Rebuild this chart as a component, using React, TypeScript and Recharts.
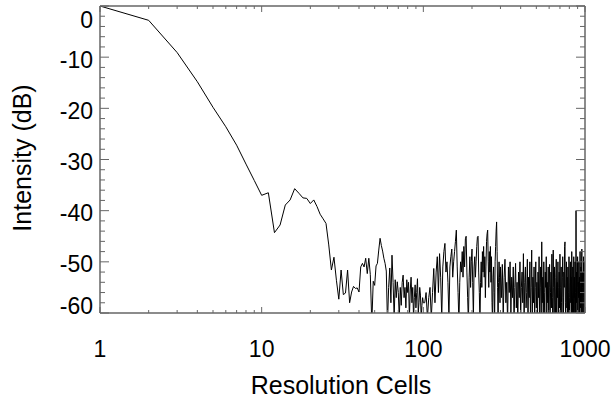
import { LineChart, Line, XAxis, YAxis } from 'recharts'

const AXIS = '#666666'
const INK = '#000000'
const FONT = '"Liberation Sans", Arial, Helvetica, sans-serif'

// cells 1..100, one value per cell
const startA = 1
const stepA = 1
const dbA = [
  0, -2.8, -9.1, -14.8, -19.8, -23.6, -27.2, -30.9, -34.1, -37.0,
  -36.5, -44.3, -42.8, -38.9, -37.9, -35.7, -36.6, -37.5, -37.6, -38.6,
  -37.9, -39.2, -40.7, -41.6, -42.5, -46.7, -51.6, -49.1, -53.6, -57.3,
  -51.6, -56.4, -56.1, -51.6, -58.0, -55.9, -54.8, -55.2, -55.1, -55.9,
  -51.0, -50.3, -51.0, -49.3, -52.3, -49.3, -52.5, -62, -53.8, -54.6,
  -50.8, -50.3, -47.7, -45.4, -46.8, -47.9, -49.3, -50.3, -51.8, -62,
  -55, -51.2, -58, -48.7, -54, -61, -53.5, -57, -53.9, -56,
  -61, -55, -58.5, -54, -52.6, -57, -55, -59, -53.5, -56,
  -54, -61, -55.5, -53, -58, -55, -61, -57, -54.5, -59,
  -56, -53.3, -60, -58, -55, -56.5, -61, -58.5, -57, -58,
]

// cells 102..300, every second cell
const startB = 102
const stepB = 2
const dbB = [
  -58, -56, -61, -57, -55, -61, -56, -51.3, -58, -52,
  -49, -56, -48.4, -53, -61, -51, -48, -46.4, -52, -50,
  -54, -61, -51, -49, -47.5, -53, -50, -48, -46, -43.8,
  -51, -56, -62, -54, -50, -52, -48, -53, -47, -51,
  -45.5, -45, -52, -57, -62, -53, -49, -55, -50, -47.5,
  -54, -61, -51, -49, -53, -50, -47, -45.2, -45, -52,
  -56, -62, -54, -50, -55, -48, -52, -47, -53, -49,
  -57, -51, -46, -44.5, -43.8, -50, -55, -48, -52, -47,
  -54, -49, -58, -62, -53, -51, -56, -62, -50, -47,
  -44, -42.2, -48, -55, -62, -54, -50, -53, -58, -51,
]

// cells 304..1000, every fourth cell
const startC = 304
const stepC = 4
const dbC = [
  -57, -50.5, -61, -53, -49.5, -58, -54, -62, -51, -56,
  -50, -60, -53, -57, -51, -62, -55, -50.3, -59, -54,
  -62, -52, -57, -50, -61, -55, -52, -58, -48.4, -62,
  -54, -51, -59, -56, -49.5, -62, -53, -57, -50, -61,
  -55, -47.7, -60, -53, -58, -51, -62, -55, -50, -59,
  -54, -62, -52, -57, -49, -61, -55, -51, -60, -46.1,
  -58, -53, -62, -50, -56, -61, -52, -55, -49, -62,
  -54, -58, -51, -60, -55, -50.5, -62, -56, -52, -59,
  -48.5, -57, -62, -47.7, -55, -60, -51, -58, -62, -53,
  -49.5, -60, -54, -57, -50, -62, -55, -52, -59, -48.5,
  -61, -55, -51, -58, -62, -53, -49, -57, -61, -52,
  -55, -47, -46.1, -58, -62, -54, -50, -59, -53, -62,
  -51, -56, -60, -49, -57, -62, -54, -50, -58, -53,
  -62, -48, -56, -60, -51, -55, -62, -49, -57, -53,
  -61, -50, -56, -62, -40, -58, -52, -61, -55, -49,
  -62, -54, -57, -50, -60, -53, -62, -48, -56, -59,
  -51, -62, -54, -47.5, -60, -55, -52, -62, -57, -49,
  -58, -62, -53, -50, -58,
]

const xTicks = [
  1, 2, 3, 4, 5, 6, 7, 8, 9, 10, 20, 30, 40, 50, 60, 70, 80, 90,
  100, 200, 300, 400, 500, 600, 700, 800, 900, 1000,
]
const xLabels = [1, 10, 100, 1000]
const yTicks = [
  -60, -58, -56, -54, -52, -50, -48, -46, -44, -42, -40, -38, -36, -34, -32, -30,
  -28, -26, -24, -22, -20, -18, -16, -14, -12, -10, -8, -6, -4, -2, 0,
]
const yLabels = [0, -10, -20, -30, -40, -50, -60]

const toRows = (start: number, step: number, vals: number[]) =>
  vals.map((db, i) => ({ cell: start + i * step, db }))

const data = [
  ...toRows(startA, stepA, dbA),
  ...toRows(startB, stepB, dbB),
  ...toRows(startC, stepC, dbC),
]

function BottomTick({ x, y, payload }: any) {
  const v = payload.value
  const major = xLabels.includes(v)
  return (
    <g>
      <line x1={x} x2={x} y1={y} y2={y - (major ? 6 : 3)} stroke={AXIS} />
      {major && (
        <text x={x} y={y + 44} textAnchor="middle" fontSize={23} fill="#000">
          {v}
        </text>
      )}
    </g>
  )
}

function TopTick({ x, y, payload }: any) {
  const major = xLabels.includes(payload.value)
  return <line x1={x} x2={x} y1={y} y2={y + (major ? 6 : 3)} stroke={AXIS} />
}

function LeftTick({ x, y, payload }: any) {
  const v = payload.value
  const major = yLabels.includes(v)
  const dy = v === 0 ? 22 : v === -60 ? 0.5 : 10.5
  return (
    <g>
      <line x1={x} x2={x + (major ? 9 : 5)} y1={y} y2={y} stroke={AXIS} />
      {major && (
        <text x={x - 7} y={y + dy} textAnchor="end" fontSize={23} fill="#000">
          {v}
        </text>
      )}
    </g>
  )
}

function RightTick({ x, y, payload }: any) {
  const major = yLabels.includes(payload.value)
  return <line x1={x} x2={x - (major ? 9 : 5)} y1={y} y2={y} stroke={AXIS} />
}

function XTitle({ viewBox }: any) {
  const vb = viewBox ?? { x: 100, y: 313, width: 485 }
  return (
    <text x={vb.x + vb.width / 2 - 1.5} y={vb.y + 81} textAnchor="middle" fontSize={25} fill="#000">
      Resolution Cells
    </text>
  )
}

function YTitle({ viewBox }: any) {
  const vb = viewBox ?? { x: 30, y: 6, height: 307 }
  const cx = vb.x + 1
  const cy = vb.y + vb.height / 2 - 1.5
  return (
    <text
      x={cx}
      y={cy}
      transform={`rotate(-90 ${cx} ${cy})`}
      textAnchor="middle"
      fontSize={25}
      fill="#000"
    >
      Intensity (dB)
    </text>
  )
}

export default function App() {
  return (
    <div style={{ position: 'absolute', left: 0, top: 0, background: '#fff' }}>
      <LineChart
        width={613}
        height={400}
        data={data}
        margin={{ top: 0, right: 20, bottom: 7, left: 30 }}
        style={{ fontFamily: FONT }}
      >
        <XAxis
          xAxisId="b"
          dataKey="cell"
          type="number"
          scale="log"
          domain={[1, 1000]}
          allowDataOverflow
          ticks={xTicks}
          interval={0}
          height={80}
          tickSize={0}
          tickMargin={0}
          tickLine={false}
          axisLine={{ stroke: AXIS, strokeWidth: 1.5 }}
          tick={<BottomTick />}
          label={<XTitle />}
        />
        <XAxis
          xAxisId="t"
          orientation="top"
          dataKey="cell"
          type="number"
          scale="log"
          domain={[1, 1000]}
          allowDataOverflow
          ticks={xTicks}
          interval={0}
          height={6}
          tickSize={0}
          tickMargin={0}
          tickLine={false}
          axisLine={{ stroke: AXIS, strokeWidth: 1.5 }}
          tick={<TopTick />}
        />
        <YAxis
          yAxisId="l"
          type="number"
          domain={[-60, 0]}
          allowDataOverflow
          ticks={yTicks}
          interval={0}
          width={70}
          tickSize={0}
          tickMargin={0}
          tickLine={false}
          axisLine={{ stroke: AXIS, strokeWidth: 1.5 }}
          tick={<LeftTick />}
          label={<YTitle />}
        />
        <YAxis
          yAxisId="r"
          orientation="right"
          type="number"
          domain={[-60, 0]}
          allowDataOverflow
          ticks={yTicks}
          interval={0}
          width={8}
          tickSize={0}
          tickMargin={0}
          tickLine={false}
          axisLine={{ stroke: AXIS, strokeWidth: 1.5 }}
          tick={<RightTick />}
        />
        <Line
          xAxisId="b"
          yAxisId="l"
          type="linear"
          dataKey="db"
          stroke={INK}
          strokeWidth={1}
          dot={false}
          isAnimationActive={false}
        />
      </LineChart>
    </div>
  )
}
